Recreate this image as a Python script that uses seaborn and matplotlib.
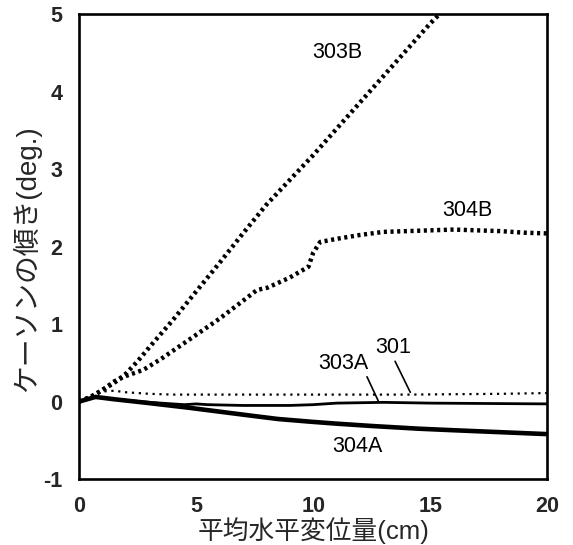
import matplotlib
matplotlib.use("Agg")
import matplotlib.pyplot as plt
import seaborn as sns
import pandas as pd

# 水平変位 (cm) とケーソン傾斜角 (deg.)
x_303B = [0, 0.5, 1, 1.5, 2, 2.5, 3, 4, 5, 6, 7, 8, 9, 10, 11, 12, 13, 14, 15, 15.4]
y_303B = [0, 0.06, 0.15, 0.24, 0.36, 0.52, 0.70, 1.05, 1.42, 1.79, 2.17, 2.54, 2.86,
          3.18, 3.52, 3.86, 4.20, 4.54, 4.88, 5.0]

x_304B = [0, 0.5, 1, 1.5, 2, 2.75, 3.5, 4.9, 6, 7, 7.6, 8.05, 9, 9.8, 10.0, 10.3, 11,
          12, 13, 14, 15, 16, 17, 18, 19, 20]
y_304B = [0, 0.06, 0.15, 0.26, 0.33, 0.41, 0.55, 0.84, 1.07, 1.30, 1.44, 1.47, 1.60,
          1.74, 1.92, 2.06, 2.10, 2.15, 2.19, 2.20, 2.21, 2.22, 2.21, 2.20, 2.18, 2.17]

x_301 = [0, 0.5, 1, 1.5, 2, 3, 4, 6, 10, 14, 18, 20]
y_301 = [0, 0.08, 0.13, 0.14, 0.12, 0.10, 0.09, 0.09, 0.09, 0.09, 0.10, 0.11]

x_303A = [0, 0.7, 1.5, 3, 4.5, 5, 5.5, 7, 9, 10, 11, 13, 15, 20]
y_303A = [0, 0.06, 0.03, -0.01, -0.04, -0.03, -0.04, -0.05, -0.05, -0.04, -0.02,
          -0.01, -0.02, -0.03]

x_304A = [0, 0.7, 1.5, 3, 4.7, 6, 7.3, 8.5, 9.9, 11, 12.5, 14.5, 16, 18, 20]
y_304A = [0, 0.06, 0.03, -0.02, -0.08, -0.13, -0.18, -0.225, -0.26, -0.285, -0.315,
          -0.35, -0.37, -0.395, -0.42]

x_ticks = [0, 5, 10, 15, 20]
y_ticks = [-1, 0, 1, 2, 3, 4, 5]

sns.set_style("white")
plt.rcParams["font.family"] = ["Liberation Sans", "Noto Sans CJK JP", "DejaVu Sans"]

fig = plt.figure(figsize=(5.73, 5.45), dpi=100)
ax = fig.add_axes([0.138, 0.121, 0.817, 0.853])

series = [
    (x_303B, y_303B, dict(color="black", linewidth=3.2, linestyle=(0, (0.7, 0.8)), dash_capstyle="butt")),
    (x_304B, y_304B, dict(color="black", linewidth=3.2, linestyle=(0, (0.7, 0.8)), dash_capstyle="butt")),
    (x_301, y_301, dict(color="black", linewidth=1.6, linestyle=(0, (1.0, 2.1)), dash_capstyle="butt")),
    (x_303A, y_303A, dict(color="black", linewidth=2.0, linestyle="-")),
    (x_304A, y_304A, dict(color="black", linewidth=3.3, linestyle="-")),
]
for xs, ys, style in series:
    df = pd.DataFrame({"x": xs, "y": ys})
    sns.lineplot(data=df, x="x", y="y", ax=ax, sort=False, estimator=None, **style)

ax.set_xlim(0, 20)
ax.set_ylim(-1, 5)
ax.set_xticks(x_ticks)
ax.set_yticks(y_ticks)
ax.set_xticklabels([str(v) for v in x_ticks], fontsize=15.5, fontweight="bold")
ax.set_yticklabels([str(v) for v in y_ticks], fontsize=15.5, fontweight="bold")
ax.tick_params(axis="both", direction="in", length=8, width=1.6, top=False, right=False)
ax.tick_params(axis="x", pad=12)
ax.tick_params(axis="y", pad=12)
for sp in ax.spines.values():
    sp.set_linewidth(1.9)
    sp.set_color("black")

ax.set_xlabel("平均水平変位量(cm)", fontsize=18.5)
ax.set_ylabel("ケーソンの傾き(deg.)", fontsize=20)
ax.xaxis.set_label_coords(0.5, -0.082)
ax.yaxis.set_label_coords(-0.081, 0.475)

# 系列ラベル
lab = dict(fontsize=15.5, ha="center", va="center", color="black")
ax.text(11.03, 4.51, "303B", **lab)
ax.text(16.6, 2.46, "304B", **lab)
ax.text(11.3, 0.49, "303A", **lab)
ax.text(13.4, 0.70, "301", **lab)
ax.text(11.9, -0.58, "304A", **lab)
ax.plot([12.3, 12.78], [0.32, 0.01], color="black", linewidth=1.2)
ax.plot([13.5, 14.15], [0.52, 0.12], color="black", linewidth=1.2)

fig.savefig("out.png", dpi=100)
